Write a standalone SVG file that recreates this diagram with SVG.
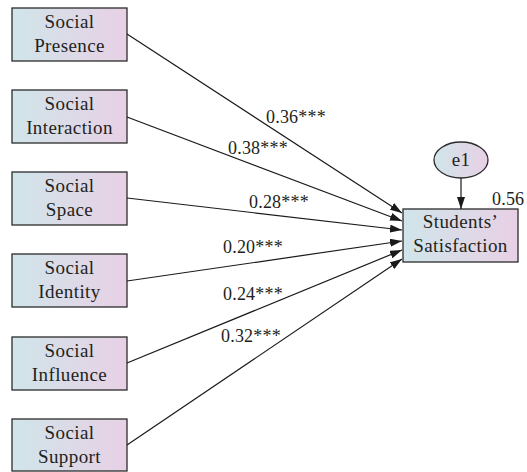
<svg xmlns="http://www.w3.org/2000/svg" width="527" height="472" viewBox="0 0 527 472">
<defs>
<linearGradient id="g" x1="0" y1="0" x2="1" y2="0">
<stop offset="0" stop-color="#d0e5ea"/>
<stop offset="1" stop-color="#e8d0e5"/>
</linearGradient>
<marker id="ah" viewBox="0 0 12 8" refX="12" refY="4" markerWidth="12" markerHeight="8" markerUnits="userSpaceOnUse" orient="auto">
<path d="M0,0 L12,4 L0,8 z" fill="#1a1a1a"/>
</marker>
</defs>
<style>
.box{fill:url(#g);stroke:#2b2b2b;stroke-width:1.3}
text{font-family:'Liberation Serif','DejaVu Serif',serif;fill:#231f20}
.t{font-size:19px;letter-spacing:0.4px;text-anchor:middle}
.l{font-size:18px;letter-spacing:0.2px}
.c{stroke:#1a1a1a;stroke-width:1.2;fill:none;marker-end:url(#ah)}
</style>
<g id="presence"><rect class="box" x="12" y="8" width="115" height="53"/><text class="t" x="69.5" y="28">Social</text><text class="t" x="69.5" y="52">Presence</text></g>
<g id="interaction"><rect class="box" x="12" y="90" width="115" height="53"/><text class="t" x="69.5" y="110">Social</text><text class="t" x="69.5" y="134">Interaction</text></g>
<g id="space"><rect class="box" x="12" y="172" width="115" height="53"/><text class="t" x="69.5" y="192">Social</text><text class="t" x="69.5" y="216">Space</text></g>
<g id="identity"><rect class="box" x="12" y="254" width="115" height="53"/><text class="t" x="69.5" y="274">Social</text><text class="t" x="69.5" y="298">Identity</text></g>
<g id="influence"><rect class="box" x="12" y="337" width="115" height="53"/><text class="t" x="69.5" y="357">Social</text><text class="t" x="69.5" y="381">Influence</text></g>
<g id="support"><rect class="box" x="12" y="419" width="115" height="52"/><text class="t" x="69.5" y="439">Social</text><text class="t" x="69.5" y="463">Support</text></g>
<g id="satisfaction"><rect class="box" x="403" y="209" width="115" height="53"/><text class="t" x="460.5" y="228">Students’</text><text class="t" x="460.5" y="252">Satisfaction</text></g>
<g id="e1"><ellipse fill="url(#g)" stroke="#2b2b2b" stroke-width="1.3" cx="461" cy="160" rx="27" ry="18"/><text class="t" x="461" y="166">e1</text></g>
<g id="connectors">
<line class="c" x1="127" y1="34" x2="402" y2="213"/>
<line class="c" x1="127" y1="117" x2="402" y2="221"/>
<line class="c" x1="127" y1="198" x2="402" y2="230"/>
<line class="c" x1="127" y1="281" x2="402" y2="241"/>
<line class="c" x1="127" y1="363" x2="402" y2="250"/>
<line class="c" x1="127" y1="445" x2="402" y2="259"/>
<line class="c" x1="461" y1="178" x2="461" y2="209"/>
</g>
<g id="labels">
<text class="l" x="266" y="123">0.36***</text>
<text class="l" x="228" y="154">0.38***</text>
<text class="l" x="249" y="208">0.28***</text>
<text class="l" x="223" y="253">0.20***</text>
<text class="l" x="223" y="300">0.24***</text>
<text class="l" x="221" y="342">0.32***</text>
<text class="l" x="492" y="205">0.56</text>
</g>
</svg>
